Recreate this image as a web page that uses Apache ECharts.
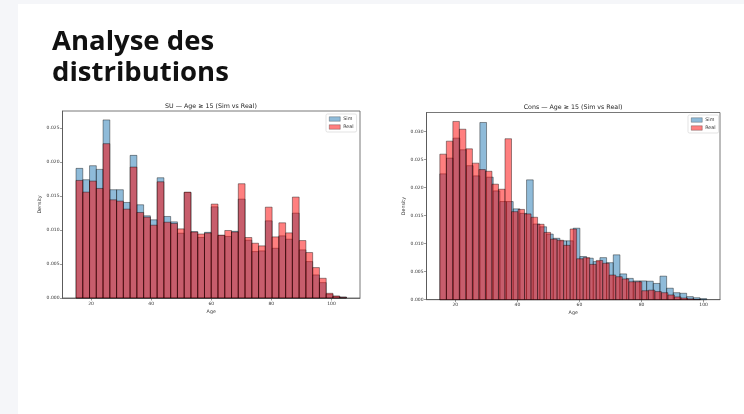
<!DOCTYPE html>
<html><head><meta charset="utf-8">
<script src="https://cdn.jsdelivr.net/npm/echarts@6/dist/echarts.min.js"></script>
<style>html,body{margin:0;padding:0;background:#f5f6f9}#c{width:744px;height:414px}</style>
</head><body><div id="c"></div><script>
// ---- Data (densities) ----
const xTicks = [20, 40, 60, 80, 100];
const yTicksSU = [0, 0.005, 0.01, 0.015, 0.02, 0.025];
const yTicksCons = [0, 0.005, 0.01, 0.015, 0.02, 0.025, 0.03];

// SU: both series binned 15..105 in 40 bins
const suBinStart = 15, suBinWidth = 2.25;
const suSim = [0.01905,0.01738,0.01944,0.0189,0.02617,0.01591,0.01591,0.01404,0.02096,0.0137,
  0.01208,0.01149,0.01767,0.01198,0.01119,0.00952,0.0155,0.00975,0.0089,0.00965,
  0.0134,0.0092,0.00905,0.0098,0.01453,0.00849,0.00682,0.00692,0.01134,0.00731,
  0.00913,0.00864,0.01247,0.00707,0.00535,0.00339,0.00226,0.00055,0.00025,0.00015];
const suReal = [0.01728,0.01556,0.01718,0.0161,0.02268,0.01443,0.01424,0.01306,0.01924,0.01257,
  0.01188,0.0107,0.01708,0.01114,0.01095,0.01016,0.01556,0.0097,0.0094,0.00955,
  0.0138,0.00923,0.00992,0.0097,0.01679,0.00889,0.00805,0.00766,0.01335,0.00898,
  0.01105,0.00957,0.01483,0.00844,0.00668,0.00447,0.0029,0.00069,0.00029,0.0001];

// Cons: Sim binned 15..101, Real binned 15..99 (40 bins each)
const consSimBinStart = 15, consSimBinWidth = 2.15;
const consRealBinStart = 15, consRealBinWidth = 2.1;
const consSim = [0.02244,0.02525,0.02881,0.02673,0.0239,0.02208,0.0316,0.02185,0.0194,0.0175,
  0.0175,0.0162,0.0154,0.02137,0.0135,0.013,0.0117,0.01095,0.0105,0.0105,
  0.01275,0.0077,0.0074,0.0068,0.0075,0.0066,0.008,0.0046,0.0038,0.00335,
  0.00335,0.0033,0.0029,0.0042,0.00205,0.00125,0.00115,0.00055,0.00035,0.0002];
const consReal = [0.02595,0.02827,0.03179,0.0304,0.0269,0.02435,0.0232,0.0229,0.0206,0.0197,
  0.0287,0.0157,0.0161,0.0153,0.0147,0.01345,0.012,0.0108,0.0106,0.0097,
  0.0126,0.0073,0.0075,0.0063,0.007,0.0065,0.0044,0.0041,0.0037,0.0032,
  0.0032,0.0016,0.0017,0.00145,0.00125,0.00085,0.0005,0.0003,0.00015,0.00005];

// ---- helpers ----
function bins(start, width, vals){
  return vals.map((v,i)=>[start + i*width, start + (i+1)*width, v]);
}
const SIM_FILL = 'rgba(31,119,180,0.5)';
const REAL_FILL = 'rgba(255,0,0,0.5)';
const EDGE = 'rgba(0,0,0,0.5)';
function histRender(fill){
  return function(params, api){
    const a = api.coord([api.value(0), api.value(2)]);
    const b = api.coord([api.value(1), 0]);
    return {type:'rect', shape:{x:a[0], y:a[1], width:b[0]-a[0], height:b[1]-a[1]},
      style:{fill:fill, stroke:EDGE, lineWidth:0.8}};
  };
}
const FONT = 'DejaVu Sans';
function xAxisCfg(gi, min, max){
  return {type:'value', gridIndex:gi, min:min, max:max,
    axisLine:{show:true, lineStyle:{color:'#555', width:0.8}},
    axisTick:{show:true, length:2.5, customValues:xTicks, lineStyle:{color:'#555', width:0.6}},
    axisLabel:{customValues:xTicks, fontSize:4.5, margin:3, color:'#333', fontFamily:FONT},
    splitLine:{show:false},
    name:'Age', nameLocation:'middle', nameGap:11,
    nameTextStyle:{fontSize:4.8, color:'#333', fontFamily:FONT}};
}
function yAxisCfg(gi, max, ticks){
  return {type:'value', gridIndex:gi, min:0, max:max,
    axisLine:{show:true, lineStyle:{color:'#555', width:0.8}},
    axisTick:{show:true, length:2.5, customValues:ticks, lineStyle:{color:'#555', width:0.6}},
    axisLabel:{customValues:ticks, fontSize:4.5, margin:3, color:'#333', fontFamily:FONT,
      formatter:v=>v.toFixed(3)},
    splitLine:{show:false},
    name:'Density', nameLocation:'middle', nameGap:20, nameRotate:90,
    nameTextStyle:{fontSize:4.8, color:'#333', fontFamily:FONT}};
}
function legendCfg(left, top){
  return {left:left, top:top, orient:'vertical', icon:'rect', itemWidth:11, itemHeight:4.5, itemGap:3,
    data:[{name:'Sim', itemStyle:{color:SIM_FILL, borderColor:EDGE, borderWidth:0.5}},
          {name:'Real', itemStyle:{color:REAL_FILL, borderColor:EDGE, borderWidth:0.5}}],
    textStyle:{fontSize:4.8, color:'#333', fontFamily:FONT, padding:[0,0,0,-2]},
    backgroundColor:'rgba(255,255,255,0.8)', borderColor:'#d0d0d0', borderWidth:0.6, borderRadius:1.5,
    padding:[2.5,3,2.5,3]};
}

const chart = echarts.init(document.getElementById('c'), null, {renderer:'canvas'});
chart.setOption({
  backgroundColor:'#f5f6f9',
  animation:false,
  title:[{text:'Analyse des\ndistributions', left:47, top:22,
    textStyle:{fontSize:27.5, fontWeight:'bold', fontFamily:'Open Sans', color:'#111', lineHeight:31}}],
  graphic:[
    {type:'rect', z:-10, shape:{x:18, y:4, width:726, height:410}, style:{fill:'#ffffff'}, silent:true},
    {type:'text', x:211, y:106, style:{text:'SU — Age ≥ 15 (Sim vs Real)', fontSize:6.3, fontFamily:FONT, fill:'#222', align:'center', verticalAlign:'middle'}},
    {type:'text', x:573, y:107.5, style:{text:'Cons — Age ≥ 15 (Sim vs Real)', fontSize:6.3, fontFamily:FONT, fill:'#222', align:'center', verticalAlign:'middle'}}
  ],
  legend:[legendCfg(326, 114), legendCfg(688, 115)],
  grid:[
    {left:62.5, top:111, width:297.5, height:187, show:true, backgroundColor:'#fff', borderColor:'#555', borderWidth:0.8},
    {left:426.5, top:112.5, width:293.5, height:187.2, show:true, backgroundColor:'#fff', borderColor:'#555', borderWidth:0.8}
  ],
  xAxis:[xAxisCfg(0, 10.5, 109.5), xAxisCfg(1, 10.7, 105.3)],
  yAxis:[yAxisCfg(0, 0.02748, yTicksSU), yAxisCfg(1, 0.03338, yTicksCons)],
  series:[
    {type:'custom', name:'Sim', xAxisIndex:0, yAxisIndex:0, renderItem:histRender(SIM_FILL),
      itemStyle:{color:SIM_FILL}, encode:{x:[0,1], y:2}, data:bins(suBinStart, suBinWidth, suSim)},
    {type:'custom', name:'Real', xAxisIndex:0, yAxisIndex:0, renderItem:histRender(REAL_FILL),
      itemStyle:{color:REAL_FILL}, encode:{x:[0,1], y:2}, data:bins(suBinStart, suBinWidth, suReal)},
    {type:'custom', name:'Sim', xAxisIndex:1, yAxisIndex:1, renderItem:histRender(SIM_FILL),
      itemStyle:{color:SIM_FILL}, encode:{x:[0,1], y:2}, data:bins(consSimBinStart, consSimBinWidth, consSim)},
    {type:'custom', name:'Real', xAxisIndex:1, yAxisIndex:1, renderItem:histRender(REAL_FILL),
      itemStyle:{color:REAL_FILL}, encode:{x:[0,1], y:2}, data:bins(consRealBinStart, consRealBinWidth, consReal)}
  ]
});
</script></body></html>
